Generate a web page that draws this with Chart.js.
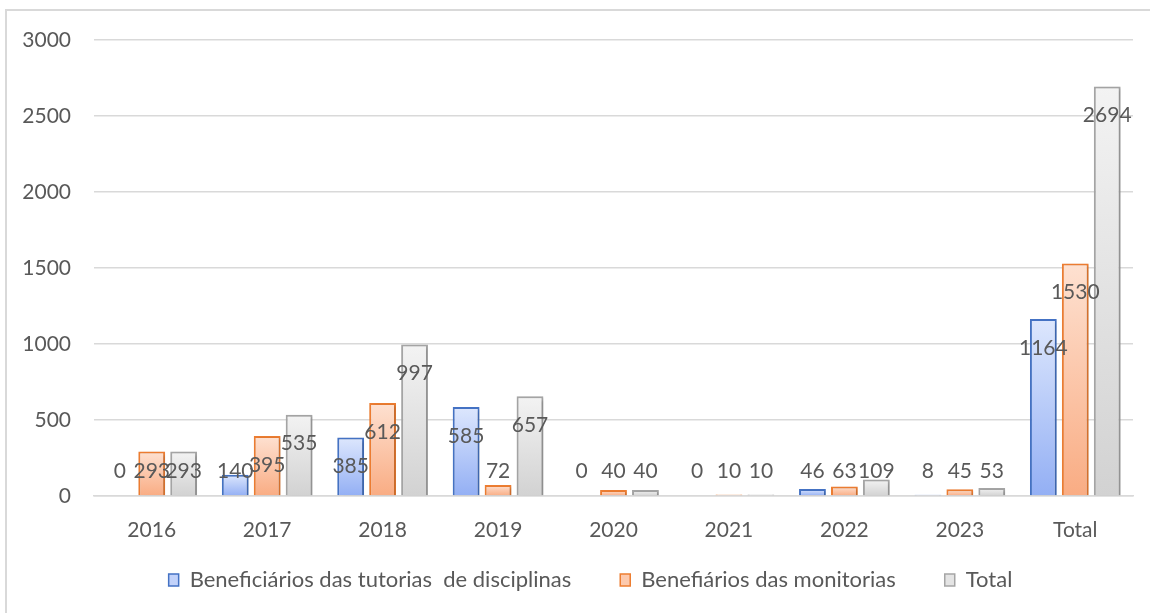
<!DOCTYPE html>
<html>
<head>
<meta charset="utf-8">
<script src="https://cdn.jsdelivr.net/npm/chart.js@4/dist/chart.umd.min.js"></script>
<style>
  html, body { margin: 0; padding: 0; background: #fff; }
  #wrap { position: relative; width: 1150px; height: 613px; }
</style>
</head>
<body>
<div id="wrap"><canvas id="myChart"></canvas></div>
<script>
const categories = ["2016", "2017", "2018", "2019", "2020", "2021", "2022", "2023", "Total"];
const tutorias = [0, 140, 385, 585, 0, 0, 46, 8, 1164];
const monitorias = [293, 395, 612, 72, 40, 10, 63, 45, 1530];
const totais = [293, 535, 997, 657, 40, 10, 109, 53, 2694];
const seriesNames = ["Beneficiários das tutorias  de disciplinas", "Benefiários das monitorias", "Total"];
const yTicks = [0, 500, 1000, 1500, 2000, 2500, 3000];

const FONT = "Lato";
const TEXT = "#595959";

// vertical gradient per bar, light at the top
function barGradient(light, dark) {
  return (c) => {
    const chart = c.chart;
    if (!chart.chartArea || c.raw == null) return dark;
    const y = chart.scales.y;
    const top = y.getPixelForValue(c.raw);
    const base = y.getPixelForValue(0);
    if (base - top < 1) return dark;
    const g = chart.ctx.createLinearGradient(0, top, 0, base);
    g.addColorStop(0, light);
    g.addColorStop(1, dark);
    return g;
  };
}

const styles = [
  { light: "#dde7fd", dark: "#93aff4", border: "#4472c4", legend: "#c2d2fa" },
  { light: "#fee1d1", dark: "#f9ac83", border: "#ed7d31", legend: "#fcc9ad" },
  { light: "#f3f3f3", dark: "#d2d2d2", border: "#a5a5a5", legend: "#e4e4e4" },
];

const data = {
  labels: categories,
  datasets: [tutorias, monitorias, totais].map((values, i) => ({
    label: seriesNames[i],
    data: values,
    backgroundColor: barGradient(styles[i].light, styles[i].dark),
    borderColor: styles[i].border,
    borderWidth: (c) => (c.raw === 0 ? 0 : 2),
    categoryPercentage: 0.83,
    barPercentage: 0.84,
  })),
};

// chart frame, bar shadows, value labels, legend nudge
const extras = {
  id: "extras",
  afterLayout(chart) {
    const lg = chart.legend;
    lg.left += 24;
    lg.right += 24;
    lg.top -= 36;
  },
  beforeDraw(chart) {
    const ctx = chart.ctx;
    ctx.save();
    ctx.strokeStyle = "#d9d9d9";
    ctx.lineWidth = 2;
    ctx.strokeRect(6, 10, 1200, 700);
    ctx.restore();
  },
  beforeDatasetsDraw(chart) {
    const ctx = chart.ctx;
    ctx.save();
    ctx.shadowColor = "rgba(0,0,0,0.22)";
    ctx.shadowBlur = 3;
    ctx.shadowOffsetX = 1.5;
    ctx.shadowOffsetY = 1.5;
  },
  afterDatasetsDraw(chart) {
    const ctx = chart.ctx;
    ctx.restore();
    ctx.save();
    ctx.font = "21px " + FONT;
    ctx.fillStyle = TEXT;
    ctx.textAlign = "center";
    ctx.textBaseline = "middle";
    chart.data.datasets.forEach((ds, di) => {
      chart.getDatasetMeta(di).data.forEach((bar, i) => {
        // inside the top of the bar, lifted above short bars
        const y = Math.min(bar.y + 29, 471);
        ctx.fillText(String(ds.data[i]), bar.x, y);
      });
    });
    ctx.restore();
  },
};

const config = {
  type: "bar",
  data: data,
  options: {
    responsive: true,
    maintainAspectRatio: false,
    animation: false,
    layout: {
      padding: { left: 0, right: 17, top: 40, bottom: 0 },
    },
    plugins: {
      tooltip: { enabled: false },
      legend: {
        position: "bottom",
        maxHeight: 57,
        labels: {
          padding: 49,
          boxWidth: 10,
          boxHeight: 12,
          color: TEXT,
          font: { family: FONT, size: 22 },
          generateLabels: () =>
            seriesNames.map((name, i) => ({
              text: name,
              fillStyle: styles[i].legend,
              strokeStyle: styles[i].border,
              lineWidth: 1.5,
              fontColor: TEXT,
              datasetIndex: i,
            })),
        },
      },
    },
    scales: {
      x: {
        grid: { display: false, drawTicks: false },
        border: { display: true, color: "#d9d9d9", width: 1.5 },
        ticks: { color: TEXT, font: { family: FONT, size: 21 }, padding: 22 },
        afterFit: (s) => { s.height = 60; },
      },
      y: {
        min: 0,
        max: 3000,
        afterBuildTicks: (s) => { s.ticks = yTicks.map((v) => ({ value: v })); },
        grid: { color: "#d9d9d9", lineWidth: 1.5, drawTicks: false },
        border: { display: false },
        ticks: {
          color: TEXT,
          font: { family: FONT, size: 21 },
          padding: 23,
          callback: (v) => String(v),
        },
        afterFit: (s) => { s.width = 94; },
      },
    },
  },
  plugins: [extras],
};

new Chart(document.getElementById("myChart"), config);
</script>
</body>
</html>
